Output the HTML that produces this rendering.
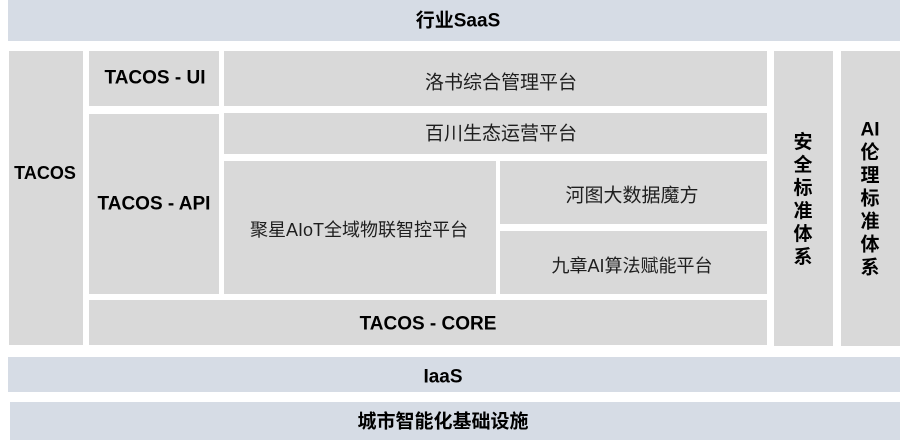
<!DOCTYPE html>
<html><head><meta charset="utf-8"><style>
html,body{margin:0;padding:0;background:#fff;}
body{width:902px;height:445px;position:relative;overflow:hidden;font-family:"Liberation Sans","Noto Sans CJK SC",sans-serif;}
.b{position:absolute;}
.g{background:#d9d9d9;}
.bl{background:#d6dce5;}
.t{position:absolute;transform:translate(-50%,-50%);white-space:nowrap;line-height:1;}
.bold{font-weight:bold;color:#000;font-size:19px;}
.reg{color:#1e1e1e;font-size:19px;}
.v{position:absolute;transform:translate(-50%,-50%);font-weight:bold;font-size:19px;line-height:23px;text-align:center;color:#000;width:30px;}
</style></head><body>
<div class="b bl" style="left:8px;top:0;width:892px;height:41px"></div>
<div class="b g" style="left:9px;top:51px;width:74px;height:294px"></div>
<div class="b g" style="left:89px;top:51px;width:130px;height:55px"></div>
<div class="b g" style="left:224px;top:51px;width:543px;height:55px"></div>
<div class="b g" style="left:89px;top:114px;width:130px;height:180px"></div>
<div class="b g" style="left:224px;top:113px;width:543px;height:41px"></div>
<div class="b g" style="left:224px;top:161px;width:272px;height:133px"></div>
<div class="b g" style="left:500px;top:161px;width:267px;height:63px"></div>
<div class="b g" style="left:500px;top:231px;width:267px;height:63px"></div>
<div class="b g" style="left:89px;top:300px;width:678px;height:45px"></div>
<div class="b g" style="left:774px;top:51px;width:59px;height:295px"></div>
<div class="b g" style="left:841px;top:51px;width:59px;height:295px"></div>
<div class="b bl" style="left:8px;top:357px;width:892px;height:35px"></div>
<div class="b bl" style="left:10px;top:402px;width:890px;height:38px"></div>

<span class="t bold" style="left:458px;top:21px">行业SaaS</span>
<span class="t bold" style="left:45px;top:173px;font-size:18px">TACOS</span>
<span class="t bold" style="left:155px;top:78px">TACOS - UI</span>
<span class="t bold" style="left:154px;top:204px">TACOS - API</span>
<span class="t reg" style="left:501px;top:83px">洛书综合管理平台</span>
<span class="t reg" style="left:501px;top:134px">百川生态运营平台</span>
<span class="t reg" style="left:359px;top:230px;font-size:18px">聚星AIoT全域物联智控平台</span>
<span class="t reg" style="left:632px;top:196px">河图大数据魔方</span>
<span class="t reg" style="left:632px;top:266px;font-size:18px">九章AI算法赋能平台</span>
<span class="t bold" style="left:428px;top:324px">TACOS - CORE</span>
<span class="t bold" style="left:443px;top:377px">IaaS</span>
<span class="t bold" style="left:443px;top:422px">城市智能化基础设施</span>
<div class="v" style="left:803px;top:200px">安<br>全<br>标<br>准<br>体<br>系</div>
<div class="v" style="left:870px;top:199px">AI<br>伦<br>理<br>标<br>准<br>体<br>系</div>
</body></html>
